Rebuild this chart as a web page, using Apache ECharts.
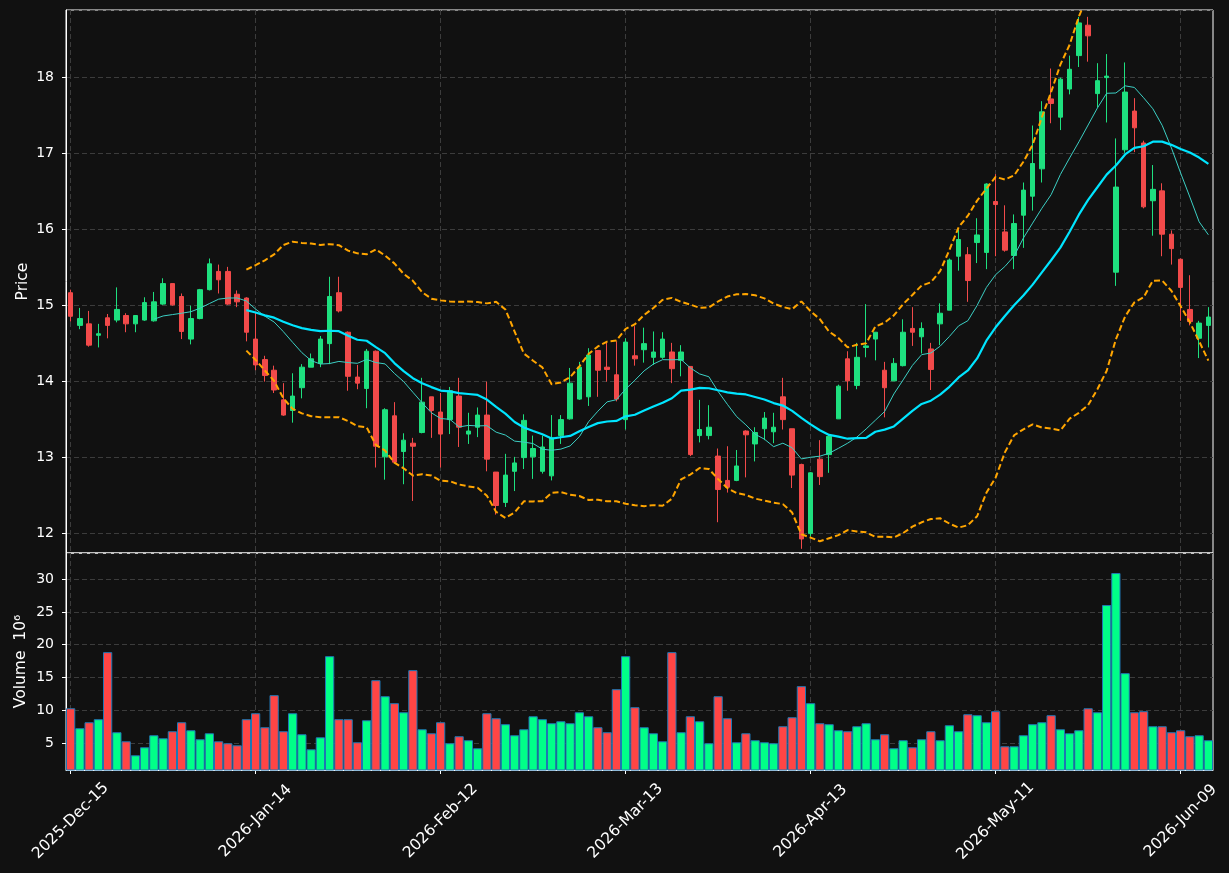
<!DOCTYPE html>
<html>
<head>
<meta charset="utf-8">
<title>Price / Volume</title>
<script src="https://cdn.jsdelivr.net/npm/echarts@6/dist/echarts.min.js"></script>
<style>
html, body { margin: 0; padding: 0; background: #111111; }
#main { width: 1229px; height: 873px; }
</style>
</head>
<body>
<div id="main"></div>
<script>
// trading calendar
var tradingDays = 124;
var holidays = ['2025-12-25', '2026-01-01', '2026-01-19', '2026-02-16', '2026-04-03', '2026-05-25'];
var monthNames = ['Jan', 'Feb', 'Mar', 'Apr', 'May', 'Jun', 'Jul', 'Aug', 'Sep', 'Oct', 'Nov', 'Dec'];

// OHLC
var opens = [15.16, 14.73, 14.75, 14.60, 14.83, 14.80, 14.86, 14.75, 14.80, 14.79,
    15.01, 15.28, 15.11, 14.55, 14.82, 15.20, 15.44, 15.44, 15.14, 15.09,
    14.55, 14.28, 14.14, 13.75, 13.61, 13.91, 14.18, 14.23, 14.49, 15.16,
    14.64, 14.05, 13.90, 14.39, 13.00, 13.54, 13.07, 13.18, 13.32, 13.79,
    13.59, 13.49, 13.80, 13.30, 13.39, 13.55, 12.80, 12.40, 12.81, 12.99,
    13.00, 12.81, 12.75, 13.28, 13.50, 13.76, 13.79, 14.40, 14.18, 14.08,
    13.49, 14.33, 14.41, 14.31, 14.31, 14.38, 14.27, 14.19, 13.28, 13.28,
    13.01, 12.69, 12.69, 13.34, 13.17, 13.37, 13.33, 13.79, 13.37, 12.90,
    11.99, 12.97, 13.03, 13.50, 14.29, 13.94, 14.44, 14.55, 14.14, 14.00,
    14.20, 14.69, 14.58, 14.42, 14.75, 14.93, 15.64, 15.66, 15.82, 15.69,
    16.36, 15.96, 15.65, 16.18, 16.43, 16.79, 17.71, 17.47, 17.84, 18.28,
    18.68, 17.78, 17.99, 15.43, 17.04, 17.55, 17.13, 16.37, 16.50, 15.93,
    15.60, 14.94, 14.56, 14.73];
var closes = [14.85, 14.82, 14.47, 14.62, 14.73, 14.94, 14.75, 14.86, 15.03, 15.04,
    15.28, 15.00, 14.65, 14.82, 15.20, 15.54, 15.33, 15.01, 15.04, 14.64,
    14.21, 14.07, 13.88, 13.55, 13.80, 14.18, 14.29, 14.55, 15.11, 14.92,
    14.06, 13.97, 14.39, 13.14, 13.62, 12.93, 13.22, 13.14, 13.72, 13.61,
    13.30, 13.87, 13.39, 13.34, 13.55, 12.97, 12.36, 12.76, 12.92, 13.48,
    13.11, 13.13, 13.25, 13.49, 13.97, 14.18, 14.34, 14.14, 14.15, 13.76,
    14.51, 14.29, 14.49, 14.38, 14.55, 14.16, 14.38, 13.03, 13.36, 13.39,
    12.57, 12.60, 12.88, 13.29, 13.32, 13.51, 13.39, 13.49, 12.76, 11.92,
    12.79, 12.74, 13.27, 13.93, 14.00, 14.31, 14.46, 14.64, 13.91, 14.23,
    14.64, 14.64, 14.69, 14.15, 14.89, 15.59, 15.86, 15.32, 15.92, 16.59,
    16.32, 15.72, 16.07, 16.51, 16.86, 17.54, 17.65, 17.97, 18.10, 18.71,
    18.54, 17.95, 18.01, 16.55, 17.80, 17.33, 16.29, 16.52, 15.93, 15.74,
    15.23, 14.78, 14.76, 14.84];
var lows = [14.78, 14.68, 14.45, 14.44, 14.56, 14.77, 14.64, 14.64, 14.79, 14.78,
    15.00, 14.99, 14.55, 14.48, 14.81, 15.19, 15.15, 15.00, 14.97, 14.52,
    14.14, 13.99, 13.84, 13.54, 13.45, 13.77, 14.18, 14.18, 14.22, 14.90,
    13.87, 13.89, 13.64, 12.86, 12.70, 12.92, 12.64, 12.42, 13.31, 13.25,
    12.86, 13.30, 13.13, 13.17, 13.26, 12.81, 12.24, 12.34, 12.55, 12.84,
    12.71, 12.78, 12.69, 13.17, 13.49, 13.75, 13.67, 13.79, 13.99, 13.73,
    13.36, 14.20, 14.24, 14.21, 14.29, 13.97, 14.06, 13.01, 13.19, 13.23,
    12.14, 12.53, 12.68, 12.73, 12.94, 13.22, 13.18, 13.36, 12.59, 11.79,
    11.95, 12.63, 12.79, 13.50, 13.87, 13.89, 14.31, 14.27, 13.52, 14.00,
    14.19, 14.46, 14.36, 13.88, 14.47, 14.93, 15.45, 15.04, 15.55, 15.47,
    15.64, 15.70, 15.47, 15.75, 16.24, 16.61, 17.39, 17.30, 17.77, 18.13,
    18.20, 17.60, 17.40, 15.25, 17.00, 17.01, 16.27, 15.91, 15.64, 15.53,
    14.79, 14.73, 14.30, 14.44];
var highs = [15.20, 14.96, 14.92, 14.75, 14.88, 15.23, 14.89, 14.86, 15.10, 15.17,
    15.35, 15.28, 15.15, 14.99, 15.21, 15.61, 15.53, 15.50, 15.19, 15.10,
    14.91, 14.33, 14.20, 13.97, 14.10, 14.22, 14.36, 14.59, 15.37, 15.37,
    14.65, 14.21, 14.42, 14.40, 13.64, 13.72, 13.31, 13.25, 14.04, 13.79,
    13.84, 13.92, 14.04, 13.58, 13.65, 13.99, 12.80, 13.04, 13.00, 13.56,
    13.28, 13.28, 13.55, 13.55, 14.17, 14.25, 14.43, 14.40, 14.50, 14.52,
    14.56, 14.72, 14.70, 14.65, 14.64, 14.50, 14.47, 14.19, 13.75, 13.68,
    13.11, 13.14, 13.09, 13.35, 13.39, 13.59, 13.58, 14.04, 13.37, 12.91,
    12.80, 13.22, 13.29, 13.95, 14.39, 14.50, 15.01, 14.64, 14.25, 14.30,
    14.81, 14.97, 14.77, 14.50, 15.02, 15.61, 15.99, 15.76, 16.14, 16.60,
    16.72, 16.31, 16.19, 16.61, 17.36, 17.68, 18.11, 17.99, 18.28, 18.79,
    18.79, 18.18, 18.30, 17.19, 18.19, 17.72, 17.16, 16.84, 16.60, 15.98,
    15.61, 15.39, 14.79, 14.97];

// volume in millions
var volumes = [10.33, 7.29, 8.20, 8.66, 18.87, 6.68, 5.30, 3.17, 4.39, 6.22,
    5.76, 6.83, 8.20, 6.98, 5.61, 6.52, 5.30, 5.00, 4.69, 8.66,
    9.57, 7.44, 12.32, 6.83, 9.57, 6.37, 4.08, 5.91, 18.26, 8.66,
    8.66, 5.15, 8.50, 14.60, 12.16, 11.10, 9.72, 16.13, 7.13, 6.52,
    8.20, 5.00, 6.07, 5.46, 4.24, 9.57, 8.81, 7.90, 6.22, 7.13,
    9.11, 8.66, 8.05, 8.35, 8.05, 9.72, 9.11, 7.44, 6.68, 13.23,
    18.26, 10.49, 7.44, 6.52, 5.30, 18.87, 6.68, 9.11, 8.35, 5.00,
    12.16, 8.81, 5.15, 6.52, 5.46, 5.15, 5.00, 7.59, 8.96, 13.69,
    11.10, 8.05, 7.90, 6.98, 6.83, 7.59, 8.05, 5.61, 6.37, 4.24,
    5.46, 4.39, 5.61, 6.83, 5.46, 7.74, 6.83, 9.42, 9.27, 8.20,
    9.88, 4.54, 4.54, 6.22, 7.90, 8.20, 9.27, 7.13, 6.52, 6.98,
    10.33, 9.72, 26.04, 30.91, 15.67, 9.72, 9.88, 7.59, 7.59, 6.68,
    6.98, 6.07, 6.22, 5.46];

function pad(n) { return n < 10 ? '0' + n : '' + n; }

var dates = [];
var d = new Date(Date.UTC(2025, 11, 15));
while (dates.length < tradingDays) {
    var iso = d.getUTCFullYear() + '-' + pad(d.getUTCMonth() + 1) + '-' + pad(d.getUTCDate());
    var wd = d.getUTCDay();
    if (wd !== 0 && wd !== 6 && holidays.indexOf(iso) < 0) {
        dates.push(d.getUTCFullYear() + '-' + monthNames[d.getUTCMonth()] + '-' + pad(d.getUTCDate()));
    }
    d.setUTCDate(d.getUTCDate() + 1);
}

function movingAvg(n) {
    return closes.map(function (c, i) {
        if (i < n - 1) return '-';
        var s = 0;
        for (var k = i - n + 1; k <= i; k++) s += closes[k];
        return s / n;
    });
}

function band(n, mult) {
    var mid = movingAvg(n);
    return closes.map(function (c, i) {
        if (i < n - 1) return '-';
        var ss = 0;
        for (var k = i - n + 1; k <= i; k++) ss += Math.pow(closes[k] - mid[i], 2);
        return mid[i] + mult * Math.sqrt(ss / (n - 1));
    });
}

var ma10 = movingAvg(10);
var ma20 = movingAvg(20);
var bbUpper = band(20, 2);
var bbLower = band(20, -2);

var candles = opens.map(function (o, i) { return [o, closes[i], lows[i], highs[i]]; });

var up = '#1ee07f', down = '#f24a4a';
var volUp = '#00ff88', volDown = '#ff4545';
var gridLine = { color: '#3c3c3c', type: [5, 3], width: 1 };
var every20 = function (index) { return index % 20 === 0; };

var myCharts = echarts.init(document.getElementById('main'));
var option = {
    backgroundColor: '#111111',
    animation: false,
    textStyle: { fontFamily: 'DejaVu Sans' },
    grid: [
        { left: 66, right: 16, top: 10, height: 543, show: true, borderColor: '#ffffff', borderWidth: 1 },
        { left: 66, right: 16, top: 553, height: 217, show: true, borderColor: '#ffffff', borderWidth: 1 }
    ],
    xAxis: [
        {
            type: 'category', gridIndex: 0, data: dates,
            axisLine: { show: false }, axisTick: { show: false }, axisLabel: { show: false },
            splitLine: { show: true, interval: every20, alignWithLabel: true, lineStyle: gridLine }
        },
        {
            type: 'category', gridIndex: 1, data: dates,
            axisLine: { show: true, lineStyle: { color: '#ffffff' } },
            axisTick: { show: true, interval: every20, alignWithLabel: true, length: 4, lineStyle: { color: '#ffffff' } },
            axisLabel: {
                interval: every20, rotate: 45, align: 'center', verticalAlign: 'middle',
                margin: 51, color: '#ffffff', fontSize: 15.5
            },
            splitLine: { show: true, interval: every20, alignWithLabel: true, lineStyle: gridLine }
        }
    ],
    yAxis: [
        {
            type: 'value', gridIndex: 0, min: 11.735, max: 18.88, splitNumber: 7,
            name: 'Price', nameLocation: 'middle', nameGap: 35, nameMoveOverlap: false,
            nameTextStyle: { color: '#ffffff', fontSize: 15.5 },
            axisLine: { show: true, lineStyle: { color: '#ffffff' } },
            axisTick: { show: true, length: 4, lineStyle: { color: '#ffffff' } },
            axisLabel: { color: '#ffffff', fontSize: 14, margin: 12, showMinLabel: false, showMaxLabel: false },
            splitLine: { show: true, lineStyle: gridLine }
        },
        {
            type: 'value', gridIndex: 1, min: 0.93, max: 33.96,
            name: 'Volume  10\u2076', nameLocation: 'middle', nameGap: 37, nameMoveOverlap: false,
            nameTextStyle: { color: '#ffffff', fontSize: 15.5 },
            axisLine: { show: true, lineStyle: { color: '#ffffff' } },
            axisTick: { show: true, length: 4, lineStyle: { color: '#ffffff' } },
            axisLabel: { color: '#ffffff', fontSize: 14, margin: 12, showMinLabel: false, showMaxLabel: false },
            splitLine: { show: true, lineStyle: gridLine }
        }
    ],
    series: [
        {
            name: 'OHLC', type: 'candlestick', xAxisIndex: 0, yAxisIndex: 0,
            data: candles, barWidth: 5,
            itemStyle: { color: up, color0: down, borderColor: up, borderColor0: down, borderWidth: 1 }
        },
        {
            name: 'MA10', type: 'line', xAxisIndex: 0, yAxisIndex: 0, data: ma10,
            showSymbol: false, z: 3, lineStyle: { color: '#3ccfc4', width: 1 }
        },
        {
            name: 'MA20', type: 'line', xAxisIndex: 0, yAxisIndex: 0, data: ma20,
            showSymbol: false, z: 3, lineStyle: { color: '#00e5ff', width: 2.2 }
        },
        {
            name: 'BB upper', type: 'line', xAxisIndex: 0, yAxisIndex: 0, data: bbUpper,
            showSymbol: false, z: 3, lineStyle: { color: '#ffa500', width: 2, type: [6, 3] }
        },
        {
            name: 'BB lower', type: 'line', xAxisIndex: 0, yAxisIndex: 0, data: bbLower,
            showSymbol: false, z: 3, lineStyle: { color: '#ffa500', width: 2, type: [6, 3] }
        },
        {
            name: 'Volume', type: 'bar', xAxisIndex: 1, yAxisIndex: 1, clip: true,
            barWidth: '100%',
            data: volumes.map(function (v, i) {
                return { value: v, itemStyle: { color: closes[i] >= opens[i] ? volUp : volDown } };
            }),
            itemStyle: { borderColor: '#1f77b4', borderWidth: 1 }
        }
    ]
};
myCharts.setOption(option);
</script>
</body>
</html>
